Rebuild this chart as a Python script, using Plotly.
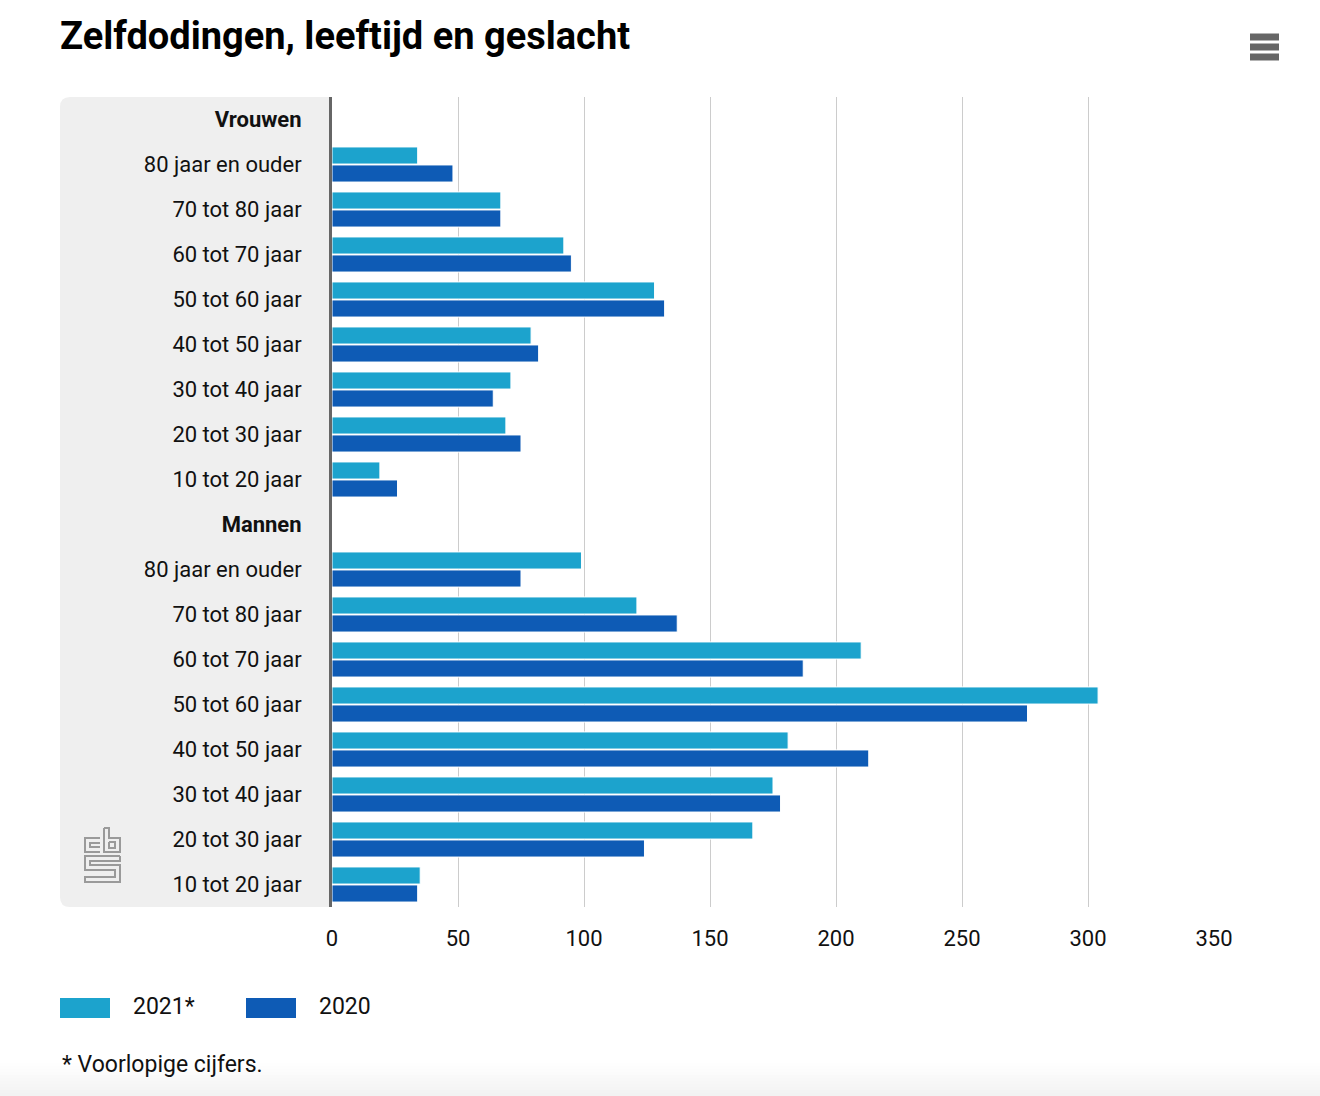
import plotly.graph_objects as go

# ---- data ----
categories = [
    "Vrouwen", "80 jaar en ouder", "70 tot 80 jaar", "60 tot 70 jaar", "50 tot 60 jaar",
    "40 tot 50 jaar", "30 tot 40 jaar", "20 tot 30 jaar", "10 tot 20 jaar",
    "Mannen", "80 jaar en ouder", "70 tot 80 jaar", "60 tot 70 jaar", "50 tot 60 jaar",
    "40 tot 50 jaar", "30 tot 40 jaar", "20 tot 30 jaar", "10 tot 20 jaar",
]
header_rows = ["Vrouwen", "Mannen"]
values_2021 = [None, 34, 67, 92, 128, 79, 71, 69, 19,
               None, 99, 121, 210, 304, 181, 175, 167, 35]
values_2020 = [None, 48, 67, 95, 132, 82, 64, 75, 26,
               None, 75, 137, 187, 276, 213, 178, 124, 34]
series_names = ["2021*", "2020"]
x_ticks = [0, 50, 100, 150, 200, 250, 300, 350]

colors = ["#1ca3cd", "#0e5bb5"]
FONT = "Roboto"

W, H = 1320, 1096
L, R, T, B = 332, 1214, 97, 907  # plot area in pixels

def px(x):
    return (x - L) / (R - L)

def py(y):
    return (B - y) / (B - T)

pos = list(range(len(categories)))
ticktext = [f"<b>{c}</b>" if (c in header_rows) else c for c in categories]

fig = go.Figure()
for name, vals, col in zip(series_names, [values_2021, values_2020], colors):
    fig.add_trace(go.Bar(
        y=pos, x=vals, name=name, orientation="h",
        marker=dict(color=col, line=dict(color="white", width=1)),
        showlegend=False,
    ))

shapes = []
# faint grey gradient at the bottom of the page
for i in range(12):
    y_top = 1060 + i * 3
    g = 255 - int(i * 1.2)
    shapes.append(dict(type="rect", xref="paper", yref="paper",
                       x0=px(0), x1=px(W), y0=py(min(y_top + 3, H) if i < 11 else H + 2), y1=py(y_top),
                       fillcolor=f"rgb({g},{g},{g})", line=dict(width=0), layer="below"))

# grey panel with rounded left corners
r = 10
x0, x1 = px(60), px(L)
y0, y1 = py(B), py(T)
rx, ry = r / (R - L), r / (B - T)
path = (f"M {x1},{y1} L {x0+rx},{y1} Q {x0},{y1} {x0},{y1-ry} "
        f"L {x0},{y0+ry} Q {x0},{y0} {x0+rx},{y0} L {x1},{y0} Z")
shapes.append(dict(type="path", path=path, xref="paper", yref="paper",
                   fillcolor="#efefef", line=dict(width=0), layer="below"))

# legend swatches
for (lx, col) in [(60, colors[0]), (246, colors[1])]:
    shapes.append(dict(type="rect", xref="paper", yref="paper",
                       x0=px(lx), x1=px(lx + 50), y0=py(1018), y1=py(998),
                       fillcolor=col, line=dict(width=0)))

# hamburger menu icon
for yy in [37, 47, 57]:
    shapes.append(dict(type="line", xref="paper", yref="paper",
                       x0=px(1250), x1=px(1279), y0=py(yy), y1=py(yy),
                       line=dict(color="#666666", width=7)))

# CBS logo (outline)
logo_col = "#9a9a9a"
def lp(points):
    return " ".join(("M" if i == 0 else "L") + f" {px(a)},{py(b)}" for i, (a, b) in enumerate(points))
logo_paths = [
    # c
    lp([(100, 838), (85, 838), (85, 852), (100, 852)]),
    lp([(100, 843), (90, 843), (90, 847), (100, 847)]),
    # b
    lp([(104, 828), (104, 852), (120, 852), (120, 838), (109, 838), (109, 828), (104, 828)]),
    lp([(109, 842), (115, 842), (115, 848), (109, 848), (109, 842)]),
    # s
    lp([(120, 856), (85, 856), (85, 870), (115, 870), (115, 877), (85, 877), (85, 882), (120, 882),
        (120, 865), (90, 865), (90, 861), (120, 861), (120, 856)]),
]
for p in logo_paths:
    shapes.append(dict(type="path", path=p, xref="paper", yref="paper",
                       line=dict(color=logo_col, width=2)))

annotations = [
    dict(text="2021*", x=px(131), y=py(1006), xref="paper", yref="paper",
         xanchor="left", yanchor="middle", showarrow=False,
         font=dict(family=FONT, size=23, color="#111")),
    dict(text="2020", x=px(317), y=py(1006), xref="paper", yref="paper",
         xanchor="left", yanchor="middle", showarrow=False,
         font=dict(family=FONT, size=23, color="#111")),
    dict(text="* Voorlopige cijfers.", x=px(60), y=py(1064), xref="paper", yref="paper",
         xanchor="left", yanchor="middle", showarrow=False,
         font=dict(family=FONT, size=23, color="#111")),
]

fig.update_layout(
    width=W, height=H,
    margin=dict(l=L, r=W - R, t=T, b=H - B, pad=0),
    paper_bgcolor="white", plot_bgcolor="rgba(0,0,0,0)",
    barmode="group", bargap=0.2, bargroupgap=0.05,
    title=dict(text="<b>Zelfdodingen, leeftijd en geslacht</b>",
               x=60 / W, xanchor="left", xref="container",
               y=1 - 36 / H, yanchor="middle", yref="container",
               font=dict(family=FONT, size=38, color="#000")),
    font=dict(family=FONT, size=22, color="#111"),
    xaxis=dict(range=[0, 350], tickvals=x_ticks, showgrid=True, gridcolor="#cccccc",
               gridwidth=1, zeroline=False, showline=False, ticks="",
               ticklabelstandoff=16, tickfont=dict(size=22, color="#111"), fixedrange=True),
    yaxis=dict(tickvals=pos, ticktext=ticktext, range=[len(categories) - 0.5, -0.5],
               showgrid=False, zeroline=False, showline=True, linecolor="#666666",
               linewidth=3, ticks="", ticklabelstandoff=23,
               tickfont=dict(size=22, color="#111"), fixedrange=True),
    shapes=shapes, annotations=annotations,
)

fig.write_html("out.html", config={"displayModeBar": False},
               post_script="document.body.style.margin='0';")
